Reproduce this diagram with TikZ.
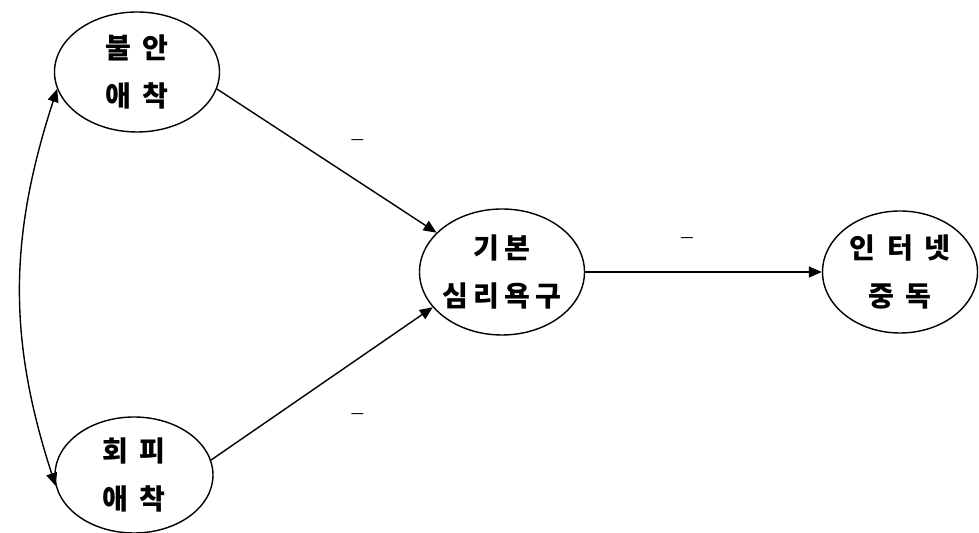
\documentclass[tikz,border=0pt]{standalone}
\usepackage{fontspec}
\newfontfamily\kr[LetterSpace=40]{Noto Sans CJK KR}
\newfontfamily\krtight[LetterSpace=18]{Noto Sans CJK KR}
\usepackage{tikz}
\usetikzlibrary{arrows.meta,positioning,shapes}

\begin{document}
\begin{tikzpicture}[
    factor/.style={ellipse, draw=black, thick, inner xsep=-0.3cm, inner ysep=0pt, align=center,
                   font=\kr\bfseries\fontsize{16}{27}\selectfont},
    arr/.style={-{Triangle[length=2.6mm, width=2.2mm]}, thick},
    sign/.style={inner sep=0pt, font=\normalsize\boldmath},
]
\useasboundingbox (0,0) rectangle (19.58,10.66);

% predictors
\node[factor, minimum width=3.3cm, minimum height=2.4cm] (anx) at (2.74, 9.22) {불안\\애착};
\node[factor, minimum width=3.16cm, minimum height=2.32cm] (avd) at (2.68, 1.16) {회피\\애착};

% mediator and outcome
\node[factor, font=\krtight\bfseries\fontsize{16}{27}\selectfont,
      minimum width=3.3cm, minimum height=2.52cm] (need) at (10.04, 5.22) {기본\\심리욕구};
\node[factor, minimum width=3.1cm, minimum height=2.44cm] (addict) at (18.0, 5.22) {인터넷\\중독};

% paths
\draw[arr] (anx.-12) -- node[sign, pos=0.64, above=0.66cm] {$-$} (need.149);
\draw[arr] (avd.11) -- node[sign, pos=0.66, below=0.95cm] {$-$} (need.207);
\draw[arr] (need.east) -- node[sign, pos=0.43, above=0.52cm] {$-$} (addict.west);

% correlation
\draw[{Triangle[length=2.6mm, width=2.2mm]}-{Triangle[length=2.6mm, width=2.2mm]}, thick]
    (anx.192) to[out=252, in=108] (avd.188);
\end{tikzpicture}
\end{document}
